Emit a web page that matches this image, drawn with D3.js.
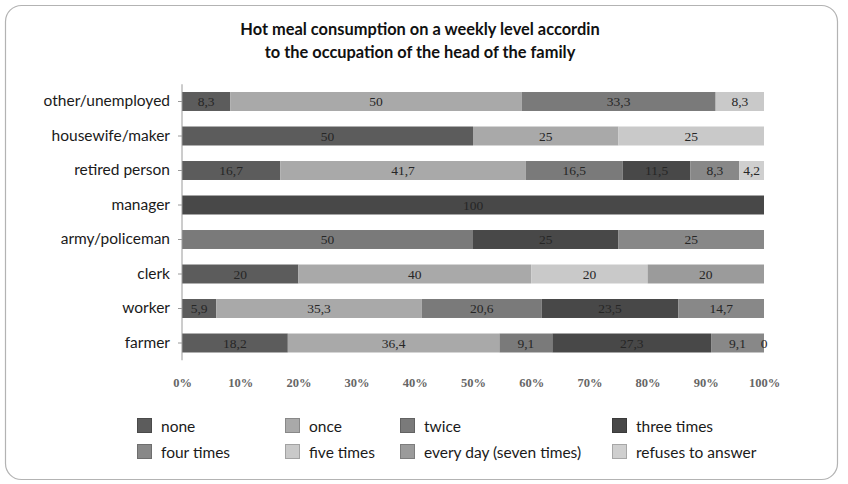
<!DOCTYPE html>
<html>
<head>
<meta charset="utf-8">
<script src="https://cdn.jsdelivr.net/npm/d3@7"></script>
<style>
html,body{margin:0;padding:0;background:#fff;}
svg{display:block;}
</style>
</head>
<body>
<svg id="chart" width="848" height="484"></svg>
<script>
// ---- data ----
const titleLines = ["Hot meal consumption on a weekly level accordin", "to the occupation of the head of the family"];
const categories = ["other/unemployed","housewife/maker","retired person","manager","army/policeman","clerk","worker","farmer"];
const seriesNames = ["none","once","twice","three times","four times","five times","every day (seven times)","refuses to answer"];
const noneVals     = [8.3, 50, 16.7, null, null, 20, 5.9, 18.2];
const onceVals     = [50, 25, 41.7, null, null, 40, 35.3, 36.4];
const twiceVals    = [33.3, null, 16.5, null, 50, null, 20.6, 9.1];
const threeVals    = [null, null, 11.5, 100, 25, null, 23.5, 27.3];
const fourVals     = [null, null, 8.3, null, 25, null, 14.7, 9.1];
const fiveVals     = [8.3, 25, null, null, null, 20, null, null];
const everyDayVals = [null, null, null, null, null, 20, null, null];
const refusesVals  = [null, null, 4.2, null, null, null, null, 0];
const seriesValues = [noneVals, onceVals, twiceVals, threeVals, fourVals, fiveVals, everyDayVals, refusesVals];
const tickValues = [0,10,20,30,40,50,60,70,80,90,100];
const colors = ["#5c5c5c","#a9a9a9","#7a7a7a","#484848","#888888","#c9c9c9","#9b9b9b","#cfcfcf"];

// ---- layout ----
const svg = d3.select("#chart");
const x = d3.scaleLinear().domain([0,100]).range([182,764]);
const y = d3.scaleBand().domain(categories).range([84.25,360.25]).paddingInner(0.45).paddingOuter(0.225);

// frame
svg.append("rect").attr("x",5.5).attr("y",5.5).attr("width",832).attr("height",474)
  .attr("rx",16).attr("fill","#fff").attr("stroke","#b3b3b3").attr("stroke-width",1.2);

// title
svg.append("g").selectAll("text").data(titleLines).join("text")
  .attr("x",420).attr("y",(d,i)=>35+i*23)
  .attr("text-anchor","middle")
  .attr("font-family","Lato, 'Open Sans', sans-serif").attr("font-weight","bold")
  .attr("font-size",16.4).attr("fill","#111").text(d=>d);

// stacked rows (100% normalized)
const rows = categories.map((c,ci)=>{
  const total = d3.sum(seriesValues, s=>s[ci]||0);
  let acc = 0;
  return seriesValues.map((s,si)=>{
    const v = s[ci];
    const x0 = acc/total*100;
    acc += (v||0);
    const x1 = acc/total*100;
    return {cat:c, si, v, x0, x1};
  }).filter(d=>d.v!==null);
});
const segs = rows.flat();

svg.append("g").selectAll("rect").data(segs.filter(d=>d.v>0)).join("rect")
  .attr("x",d=>x(d.x0)).attr("width",d=>x(d.x1)-x(d.x0))
  .attr("y",d=>y(d.cat)).attr("height",y.bandwidth())
  .attr("fill",d=>colors[d.si]);

// data labels
const fmt = v => String(v).replace(".", ",");
svg.append("g").selectAll("text").data(segs).join("text")
  .attr("x",d=>(x(d.x0)+x(d.x1))/2)
  .attr("y",d=>y(d.cat)+y.bandwidth()/2+4.5)
  .attr("text-anchor","middle")
  .attr("font-family","'Liberation Serif', 'DejaVu Serif', serif")
  .attr("font-size",13.5).attr("fill","#262626")
  .text(d=>fmt(d.v));

// vertical axis
const yAxis = svg.append("g").attr("transform","translate(182,0)")
  .call(d3.axisLeft(y).tickSize(4).tickPadding(8));
yAxis.select(".domain").attr("stroke","#9a9a9a").attr("d","M0,84.25V360.25");
yAxis.selectAll(".tick line").attr("stroke","#9a9a9a");
yAxis.selectAll(".tick text").attr("font-family","Lato, 'Open Sans', sans-serif")
  .attr("font-size",15.5).attr("fill","#1a1a1a");

// x tick labels
const xAxis = svg.append("g").attr("transform","translate(0,370)")
  .call(d3.axisBottom(x).tickValues(tickValues).tickFormat(d=>d+"%").tickSize(0).tickPadding(8));
xAxis.select(".domain").remove();
xAxis.selectAll(".tick text").attr("font-family","'Liberation Serif', serif")
  .attr("font-weight","bold").attr("font-size",12.5).attr("fill","#666");

// legend
const legendCols = [137, 285, 400, 612];
const legendRows = [426, 452];
const lg = svg.append("g").selectAll("g").data(seriesNames).join("g")
  .attr("transform",(d,i)=>`translate(${legendCols[i%4]},${legendRows[Math.floor(i/4)]})`);
lg.append("rect").attr("x",0.5).attr("y",-7.5).attr("width",14).attr("height",14)
  .attr("fill",(d,i)=>colors[i]).attr("stroke",(d,i)=>d3.color(colors[i]).darker(0.6)).attr("stroke-width",1);
lg.append("text").attr("x",24).attr("y",5.5)
  .attr("font-family","Lato, 'Open Sans', sans-serif").attr("font-size",15.5).attr("fill","#1a1a1a")
  .text(d=>d);
</script>
</body>
</html>
